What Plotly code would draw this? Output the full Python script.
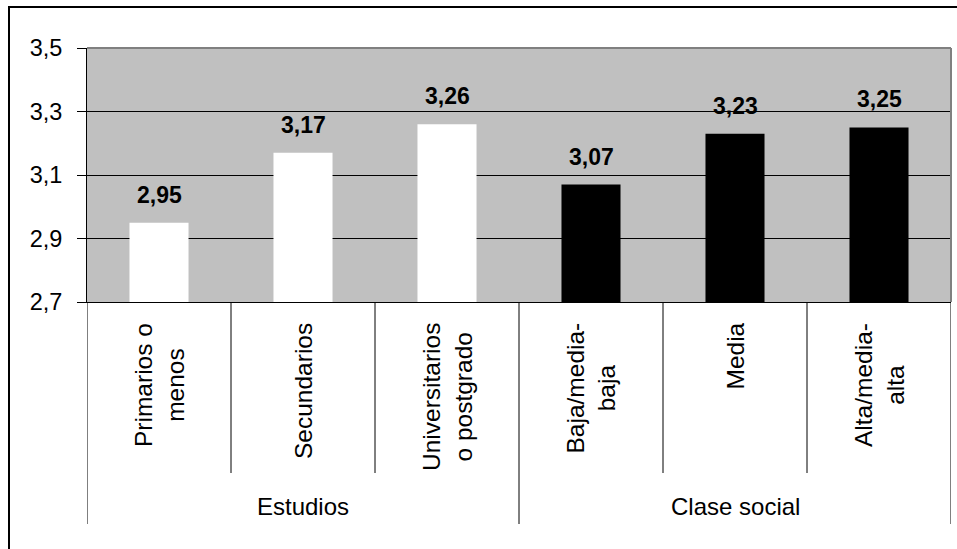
import plotly.graph_objects as go

# Data
groups = ["Estudios", "Estudios", "Estudios", "Clase social", "Clase social", "Clase social"]
categories = ["Primarios o\nmenos", "Secundarios", "Universitarios\no postgrado",
              "Baja/media-\nbaja", "Media", "Alta/media-\nalta"]
values = [2.95, 3.17, 3.26, 3.07, 3.23, 3.25]
group_colors = {"Estudios": "#FFFFFF", "Clase social": "#000000"}
y_ticks = [2.7, 2.9, 3.1, 3.3, 3.5]

FONT = "Liberation Sans, Arial, sans-serif"
W, H = 957, 549
L, R, T, B = 87, 6, 48, 247
PW, PH = W - L - R, H - T - B

def py(pix):  # pixel row -> paper y
    return (H - B - pix) / PH

def px(pix):  # pixel column -> paper x
    return (pix - L) / PW

xs = list(range(len(categories)))

fig = go.Figure()
fig.add_trace(go.Bar(
    x=xs, y=values, width=0.41,
    marker=dict(color=[group_colors[g] for g in groups], line=dict(width=0)),
    hoverinfo="skip",
))

annotations = []
# data labels
for x, v in zip(xs, values):
    annotations.append(dict(
        x=x, y=v, xref="x", yref="y", text=f"<b>{v:.2f}</b>".replace(".", ","),
        showarrow=False, yanchor="bottom", xanchor="center", yshift=13,
        font=dict(family=FONT, size=23, color="black"),
    ))
# category labels (rotated)
for x, c in zip(xs, categories):
    annotations.append(dict(
        x=x, y=py(321), xref="x", yref="paper", text=c.replace("\n", "<br>"),
        showarrow=False, textangle=-90, yanchor="top", xanchor="center", align="center",
        font=dict(family=FONT, size=24.5, color="black"),
    ))
# group labels
unique_groups = []
for g in groups:
    if g not in unique_groups:
        unique_groups.append(g)
for g in unique_groups:
    idx = [i for i, gg in enumerate(groups) if gg == g]
    annotations.append(dict(
        x=sum(idx) / len(idx), y=py(506), xref="x", yref="paper", text=g,
        showarrow=False, yanchor="middle", xanchor="center",
        font=dict(family=FONT, size=24, color="black"),
    ))

shapes = []
# separators below the axis
for i in range(len(categories) + 1):
    xb = i - 0.5
    is_group_edge = (i == 0 or i == len(categories) or groups[i] != groups[i - 1])
    y_end = py(524) if is_group_edge else py(473)
    shapes.append(dict(type="line", xref="x", yref="paper", x0=xb, x1=xb, y0=0, y1=y_end,
                       line=dict(color="black", width=1)))
# plot area gray border (top & right)
shapes.append(dict(type="line", xref="paper", yref="paper", x0=0, x1=1, y0=1, y1=1,
                   line=dict(color="#808080", width=2)))
shapes.append(dict(type="line", xref="paper", yref="paper", x0=1, x1=1, y0=0, y1=1,
                   line=dict(color="#808080", width=2)))
# outer chart border
shapes.append(dict(type="rect", xref="paper", yref="paper",
                   x0=px(9), x1=px(990), y0=py(600), y1=py(7),
                   line=dict(color="black", width=2), fillcolor="rgba(0,0,0,0)"))

fig.update_layout(
    width=W, height=H,
    margin=dict(l=L, r=R, t=T, b=B, pad=0),
    paper_bgcolor="white", plot_bgcolor="#C0C0C0",
    separators=",.",
    showlegend=False,
    annotations=annotations,
    shapes=shapes,
    font=dict(family=FONT, size=23, color="black"),
    bargap=0.59,
)
fig.update_xaxes(range=[-0.5, len(categories) - 0.5], showticklabels=False, ticks="",
                 showgrid=False, zeroline=False, showline=True, linecolor="black", linewidth=1)
fig.update_yaxes(range=[y_ticks[0], y_ticks[-1]], tickvals=y_ticks, tickformat=".1f",
                 showgrid=True, gridcolor="black", gridwidth=1, zeroline=False,
                 showline=True, linecolor="black", linewidth=1,
                 ticks="outside", ticklen=9, tickcolor="black", tickwidth=1,
                 tickfont=dict(family=FONT, size=23.5, color="black"), ticklabelstandoff=10)

fig.write_html("out.html", config={"displayModeBar": False},
               post_script="document.body.style.margin='0px';document.body.style.overflow='hidden';")
